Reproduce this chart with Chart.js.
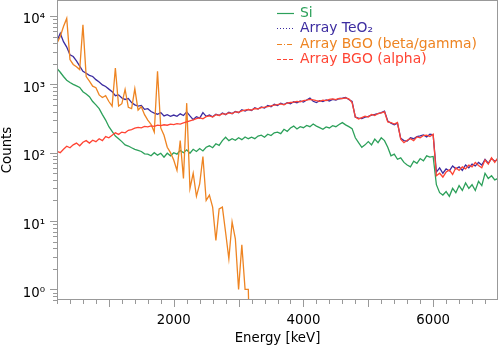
<!DOCTYPE html>
<html><head><meta charset="utf-8">
<script src="https://cdn.jsdelivr.net/npm/chart.js@4.4.1/dist/chart.umd.min.js"></script>
<style>html,body{margin:0;padding:0;background:#fff}canvas{display:block}</style>
</head><body>
<canvas id="c" width="498" height="347"></canvas>
<script>
const energies = [200,250,300,350,400,450,500,550,600,650,700,750,800,850,900,950,
1000,1050,1100,1150,1200,1250,1300,1350,1400,1450,1500,1550,1600,1650,1700,1750,1800,1850,1900,1950,
2000,2050,2100,2150,2200,2250,2300,2350,2400,2450,2500,2550,2600,2650,2700,2750,2800,2850,2900,2950,
3000,3050,3100,3150,3200,3250,3300,3350,3400,3450,3500,3550,3600,3650,3700,3750,3800,3850,3900,3950,
4000,4050,4100,4150,4200,4250,4300,4350,4400,4450,4500,4550,4600,4650,4700,4750,4800,4850,4900,4950,
5000,5050,5100,5150,5200,5250,5300,5350,5400,5450,5500,5550,5600,5650,5700,5750,5800,5850,5900,5950,
6000,6050,6100,6150,6200,6250,6300,6350,6400,6450,6500,6550,6600,6650,6700,6750,6800,6850,6900,6950,
7000];

const siCounts = [1700,1500,1300,1150,1060,1000,950,900,780,720,660,560,500,440,360,300,
240,205,175,160,145,130,125,118,112,108,104,96,95,90,100,92,98,86,98,90,
100,95,108,100,110,98,112,104,115,106,120,126,118,135,128,150,168,150,160,152,
165,155,170,160,168,160,175,180,168,186,178,195,200,190,220,205,230,245,222,240,
232,250,240,262,245,232,220,238,230,248,240,258,275,255,240,225,165,140,120,130,
145,130,158,140,165,150,120,90,95,80,84,72,66,62,75,70,82,76,90,86,
88,34,26,24,27,23,30,26,33,28,36,30,34,28,38,33,50,42,46,40,
42];

const teo2Counts = [4300,5600,4200,3500,2700,2550,2200,1850,1550,1450,1350,1300,1170,1080,980,930,
850,780,680,700,630,600,620,540,500,480,490,430,440,400,380,365,385,345,360,340,
355,340,370,350,395,345,305,335,320,385,340,355,335,365,350,380,360,390,372,400,
385,425,405,430,415,455,435,465,450,490,470,510,490,530,505,540,520,555,535,570,
550,590,630,565,540,575,560,590,570,600,590,615,625,640,600,560,330,320,315,330,
340,355,362,372,385,405,290,270,255,270,162,150,148,165,160,172,176,182,170,186,
182,52,60,50,58,54,64,58,62,55,66,60,68,64,72,66,80,70,82,75,
80];

const bgoBetaGammaCounts = [4000,5000,7000,9200,2300,1950,1800,1640,7400,1300,1110,940,890,700,640,680,
560,480,1730,480,520,840,460,440,860,420,470,360,300,260,200,1550,230,180,120,100,
78,55,150,42,530,30,50,23,35,88,20,24,16,5.2,15,16,6.8,2.8,9.7,5.5,
1,4.5,1,1,0,0];

const bgoAlphaCounts = [105,100,112,124,118,130,138,126,142,150,138,152,145,160,150,172,
165,180,195,185,200,195,212,218,228,235,230,242,238,246,242,252,248,256,252,262,
258,266,262,272,282,292,302,315,322,314,336,346,332,360,350,372,364,382,372,396,
390,408,418,428,420,442,436,456,462,472,482,496,506,518,502,532,542,548,562,552,
578,586,602,590,575,562,586,576,602,612,596,622,616,632,612,540,335,310,326,342,
332,362,350,374,382,396,282,276,262,276,158,140,152,160,150,170,165,178,180,172,
186,46,50,44,52,56,48,60,55,62,58,66,62,72,65,60,78,68,84,72,
85];

const seriesNames = ['Si', 'Array TeO\u2082', 'Array BGO (beta/gamma)', 'Array BGO (alpha)'];
const xTickValues = [2000, 4000, 6000];
const yTickValues = [1, 10, 100, 1000, 10000];
const yTickLabels = ['10\u2070', '10\u00b9', '10\u00b2', '10\u00b3', '10\u2074'];

const colors = ['#2ca05a', '#3c2ca0', '#ee8422', '#ff4433'];
const legendDash = [[], [1, 2], [5, 2, 1, 2], [4, 2]];
const FONT = "'DejaVu Sans', sans-serif";
const FS = 13.3;

// zero counts fall below the log axis: plot them far below so the line drops out of view
function toPoints(arr) {
  return arr.map((v, i) => ({ x: energies[i], y: v > 0 ? v : 0.01 }));
}

const framePlugin = {
  id: 'frameTicks',
  afterDraw(chart) {
    const { ctx, chartArea: a, scales: { x, y } } = chart;
    ctx.save();
    ctx.strokeStyle = '#999';
    ctx.lineWidth = 1;
    ctx.beginPath();
    for (let e = 200; e <= 7000; e += 200) {
      const px = Math.round(x.getPixelForValue(e)) + 0.5;
      const len = e % 1000 === 0 ? 7 : 4;
      ctx.moveTo(px, a.bottom); ctx.lineTo(px, a.bottom + len);
    }
    for (let d = -1; d <= 4; d++) {
      for (let m = 1; m <= 9; m++) {
        const v = m * Math.pow(10, d);
        if (v < y.min || v > y.max) continue;
        const py = Math.round(y.getPixelForValue(v)) + 0.5;
        const len = m === 1 ? 7 : 4;
        ctx.moveTo(a.left, py); ctx.lineTo(a.left - len, py);
      }
    }
    ctx.stroke();
    ctx.strokeRect(a.left + 0.5, a.top + 0.5, a.right - a.left - 1, a.bottom - a.top - 1);
    ctx.restore();
  }
};

const legendPlugin = {
  id: 'insideLegend',
  afterDraw(chart) {
    const { ctx } = chart;
    const rows = [12.5, 28, 43.5, 59];
    ctx.save();
    ctx.font = '13.9px ' + FONT;
    ctx.textBaseline = 'middle';
    ctx.textAlign = 'left';
    ctx.lineWidth = 1.2;
    seriesNames.forEach((name, i) => {
      const yy = Math.round(rows[i]) + 0.5;
      ctx.strokeStyle = colors[i];
      ctx.setLineDash(legendDash[i]);
      ctx.beginPath(); ctx.moveTo(277, yy); ctx.lineTo(294, yy); ctx.stroke();
      ctx.setLineDash([]);
      ctx.fillStyle = colors[i];
      ctx.fillText(name, 300, rows[i] + 0.5);
    });
    ctx.restore();
  }
};

Chart.defaults.font.family = FONT;
Chart.defaults.font.size = FS;
Chart.defaults.color = '#000';

new Chart(document.getElementById('c'), {
  type: 'line',
  data: {
    datasets: [
      { label: seriesNames[0], data: toPoints(siCounts), borderColor: colors[0], order: 4 },
      { label: seriesNames[1], data: toPoints(teo2Counts), borderColor: colors[1], order: 3 },
      { label: seriesNames[2], data: toPoints(bgoBetaGammaCounts), borderColor: colors[2], order: 2 },
      { label: seriesNames[3], data: toPoints(bgoAlphaCounts), borderColor: colors[3], order: 1 }
    ]
  },
  options: {
    responsive: false,
    animation: false,
    devicePixelRatio: 1,
    layout: { padding: 0 },
    plugins: { legend: { display: false }, tooltip: { enabled: false } },
    elements: { point: { radius: 0 }, line: { tension: 0, borderWidth: 1.3, fill: false } },
    scales: {
      x: {
        type: 'linear', min: 200, max: 7000,
        grid: { display: false, drawTicks: false },
        border: { display: false },
        afterBuildTicks: s => { s.ticks = xTickValues.map(v => ({ value: v })); },
        ticks: { autoSkip: false, maxRotation: 0, padding: 13, color: '#000', callback: v => String(v) },
        title: { display: true, text: 'Energy [keV]', color: '#000', padding: 0 },
        afterFit: s => { s.height = 47; s.paddingLeft = 0; s.paddingRight = 0; }
      },
      y: {
        type: 'logarithmic', min: 0.74, max: 17100,
        grid: { display: false, drawTicks: false },
        border: { display: false },
        afterBuildTicks: s => { s.ticks = yTickValues.map(v => ({ value: v })); },
        ticks: { autoSkip: false, padding: 12, labelOffset: 4, color: '#000',
          callback: v => { const i = yTickValues.indexOf(v); return i >= 0 ? yTickLabels[i] : ''; } },
        title: { display: true, text: 'Counts', color: '#000', padding: 0 },
        afterFit: s => { s.width = 57; s.paddingTop = 0; s.paddingBottom = 0; }
      }
    }
  },
  plugins: [framePlugin, legendPlugin]
});
</script>
</body></html>
